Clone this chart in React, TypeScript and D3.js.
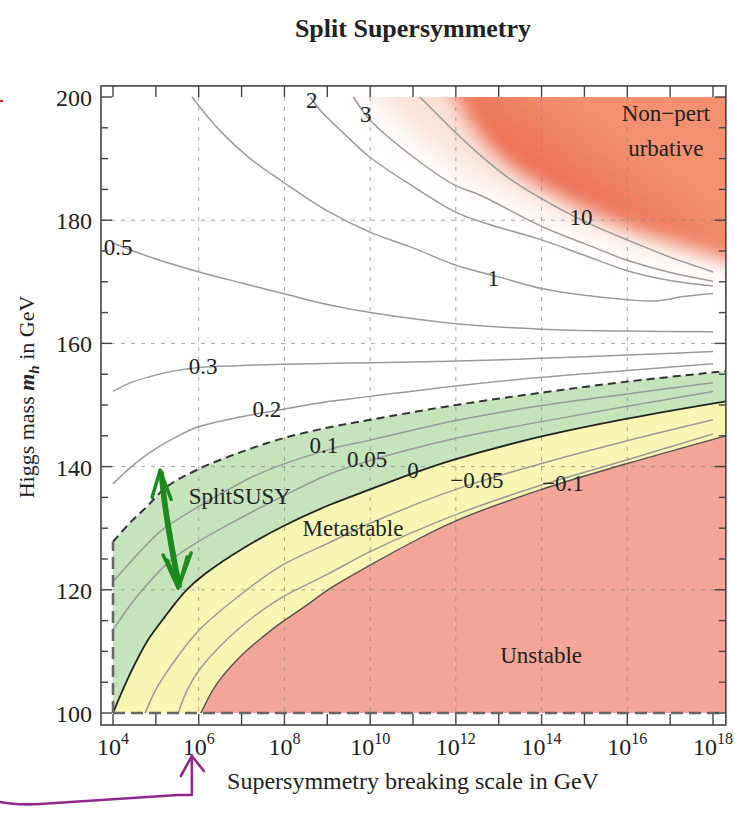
import React from "react";
import * as d3 from "d3";

const W = 735;
const H = 815;

// x values: log10 of the SUSY breaking scale in GeV, y values: Higgs mass in GeV
const xTickExps = [4, 6, 8, 10, 12, 14, 16, 18];
const yTicks = [100, 120, 140, 160, 180, 200];
const frameX = [3.72, 18.3];
const frameY = [98.05, 201.8];

// region boundaries
const splitSusyEdge: [number, number][] = [
  [4, 127.8], [4.4, 130.9], [4.79, 133.5], [5.25, 136.7], [6.0, 139.6], [7.0, 142.4],
  [7.97, 144.6], [9.06, 146.4], [10, 147.6], [12, 150.0], [14, 152.0], [16, 153.8], [18.3, 155.5],
];
const zeroLine: [number, number][] = [
  [4, 100], [4.4, 106.4], [4.82, 111.9], [5.21, 115.6], [5.45, 117.8], [5.72, 120], [6.15, 122.6],
  [7.05, 126.8], [8.05, 130.6], [9.06, 133.8], [10, 136.3], [11, 138.9], [12, 141.2], [14, 144.9],
  [16, 147.8], [18.3, 150.6],
];
const unstableEdge: [number, number][] = [
  [6.05, 100], [6.4, 104.5], [6.92, 108.8], [7.7, 113.5], [8.48, 117.3], [9.06, 120.2], [10, 124.0],
  [11, 127.8], [12, 131.2], [14, 136.3], [16, 140.5], [18.3, 145.0],
];
const nonPertEdge: [number, number][] = [
  [11.7, 204], [12.0, 200], [12.6, 193.5], [13.3, 188.8], [14.3, 184.5], [15.3, 181], [16.3, 178.2],
  [17.3, 176], [18.3, 173.8], [19.5, 172.5],
];
const nonPertHalo: [number, number][] = [
  [9.9, 204], [10.2, 200], [11, 194.5], [12, 189], [13, 185.5], [14, 182], [15, 179], [16, 176.5],
  [17, 174.5], [18.3, 173], [19.5, 172],
];

// gray contour lines (coupling at the high scale)
const c005: [number, number][] = [
  [4, 113.5], [4.4, 117.5], [4.75, 120.5], [5.3, 124.5], [5.76, 126.8], [6.54, 130], [8.05, 135.5],
  [9.06, 138.8], [10, 141], [12, 144.6], [14, 147.3], [16, 149.8], [18, 152.2],
];
const c01: [number, number][] = [
  [4, 121.3], [4.59, 125.9], [5.14, 129.7], [6, 133.5], [7.43, 138.9], [9.06, 142.8], [10, 144.3],
  [12, 147.5], [14, 149.9], [16, 151.8], [18, 153.6],
];
const cm005: [number, number][] = [
  [4.75, 100], [5.0, 103.8], [5.29, 107], [5.99, 113.3], [6.92, 118.9], [7.9, 123.8], [9, 127.5],
  [10, 130.8], [12, 136.3], [14, 140.5], [16, 144.2], [18, 147.6],
];
const cm01: [number, number][] = [
  [5.52, 100], [5.75, 104], [6.07, 107.5], [6.92, 113.6], [7.9, 118.6], [9, 122.5], [10, 126.2],
  [12, 132.2], [14, 137.0], [16, 141.1], [18, 145.3],
];
const c02: [number, number][] = [
  [4, 137.2], [4.5, 140.4], [5, 142.9], [5.5, 144.9], [6.01, 146.5], [7, 148.1], [7.97, 149.3],
  [9.06, 150.6], [10, 151.4], [12, 153.1], [14, 154.5], [16, 155.6], [18, 156.7],
];
const c03: [number, number][] = [
  [4, 152.2], [4.4, 153.6], [4.86, 154.6], [5.4, 155.5], [6.01, 156.1], [7, 156.4], [7.97, 156.6],
  [9.5, 156.8], [11, 157.0], [12.9, 157.3], [14, 157.6], [16, 158.1], [18, 158.7],
];
const c05: [number, number][] = [
  [4, 176.3], [4.4, 175.2], [5, 173.7], [6.01, 171.6], [7, 169.8], [7.97, 168.1], [9, 166.3],
  [10, 165.0], [12, 163.2], [14, 162.3], [16, 162.0], [18, 161.9],
];
const c1: [number, number][] = [
  [5.84, 200], [6.5, 194.5], [7.2, 190], [7.97, 186.2], [9, 181.5], [9.98, 178.1], [11, 175.5],
  [12, 172.7], [13, 170.8], [14, 168.9], [15, 167.8], [16, 167.1], [16.7, 166.9], [17.3, 167.6], [18, 168.1],
];
const c2: [number, number][] = [
  [8.6, 200], [8.83, 197.9], [9.4, 194], [9.98, 190.3], [11, 185.5], [11.97, 181.4], [12.56, 179.8],
  [14, 176.8], [15, 174.3], [16, 171.8], [17, 170.2], [18, 169.3],
];
const c3: [number, number][] = [
  [9.61, 200], [9.98, 196.4], [11, 190.3], [11.97, 185.7], [12.56, 184.1], [14, 179], [15, 176.2],
  [16, 173.5], [17, 171.5], [18, 170.1],
];
const c10: [number, number][] = [
  [11.16, 200], [11.97, 194.4], [12.56, 190.6], [13.2, 187], [14, 183.5], [15, 179.8], [16, 176.8],
  [17, 174], [18, 171.6],
];
const grayContours = [c005, c01, cm005, cm01, c02, c03, c05, c1, c2, c3, c10];

const contourLabels: { text: string; at: [number, number] }[] = [
  { text: "0.5", at: [4.12, 175.5] },
  { text: "0.3", at: [6.1, 156.3] },
  { text: "0.2", at: [7.59, 149.2] },
  { text: "0.1", at: [8.92, 143.5] },
  { text: "0.05", at: [9.93, 141.2] },
  { text: "0", at: [11.0, 139.3] },
  { text: "\u22120.05", at: [12.49, 137.8] },
  { text: "\u22120.1", at: [14.5, 137.3] },
  { text: "1", at: [12.87, 170.6] },
  { text: "2", at: [8.64, 199.4] },
  { text: "3", at: [9.9, 197.1] },
  { text: "10", at: [14.92, 180.5] },
];
const regionLabels: { text: string; at: [number, number] }[] = [
  { text: "SplitSUSY", at: [6.96, 135.1] },
  { text: "Metastable", at: [9.6, 130.0] },
  { text: "Unstable", at: [13.99, 109.4] },
  { text: "Non\u2212pert", at: [16.9, 197.4] },
  { text: "urbative", at: [16.9, 191.7] },
];

// hand drawn green arrow, in data units
const arrowTop: [number, number] = [5.1, 139.4];
const arrowBottom: [number, number] = [5.52, 120.3];

const FONT = "'Liberation Serif', 'DejaVu Serif', serif";

export default function App() {
  const x = d3.scaleLog().domain([1e4, 1e18]).range([113, 713]);
  const y = d3.scaleLinear().domain([100, 200]).range([713, 97]);
  const px = (e: number) => x(Math.pow(10, e));

  const line = d3
    .line<[number, number]>()
    .x((d) => px(d[0]))
    .y((d) => y(d[1]))
    .curve(d3.curveCatmullRom.alpha(0.5));

  const join = (a: [number, number][], b: [number, number][]) =>
    `${line(a)}L${(line(b.slice().reverse()) as string).slice(1)}Z`;

  const fx0 = px(frameX[0]);
  const fx1 = px(frameX[1]);
  const fy0 = y(frameY[1]);
  const fy1 = y(frameY[0]);

  const greenPath = join(splitSusyEdge, zeroLine);
  const yellowPath = join(zeroLine, unstableEdge);
  const redPath = `${line(unstableEdge)}L${px(18.3)},${y(100)}Z`;
  const orangePath = `${line(nonPertEdge)}L${px(19.5)},${y(215)}L${px(11)},${y(215)}Z`;
  const haloPath = `${line(nonPertHalo)}L${px(19.5)},${y(215)}L${px(9)},${y(215)}Z`;

  const xDecades = d3.range(4, 19);
  const yMinor = d3.range(100, 201, 5);

  const [ax, ay] = [px(arrowTop[0]), y(arrowTop[1])];
  const [bx, by] = [px(arrowBottom[0]), y(arrowBottom[1])];
  const tipX = px(5.84);

  return (
    <svg width={W} height={H} style={{ position: "absolute", left: 0, top: 0, background: "#fff" }} fontFamily={FONT}>
      <defs>
        <clipPath id="plotClip">
          <rect x={fx0} y={y(200)} width={fx1 - fx0} height={y(100) - y(200)} />
        </clipPath>
        <filter id="soft" x="-30%" y="-30%" width="160%" height="160%">
          <feGaussianBlur stdDeviation="9" />
        </filter>
        <filter id="softer" x="-30%" y="-30%" width="160%" height="160%">
          <feGaussianBlur stdDeviation="16" />
        </filter>
        <linearGradient id="npGrad" gradientUnits="userSpaceOnUse" x1={px(14.3)} y1={y(184.5)} x2={px(15.4)} y2={y(195)}>
          <stop offset="0" stopColor="#ec6c52" />
          <stop offset="1" stopColor="#f2906f" />
        </linearGradient>
      </defs>

      {/* regions */}
      <path d={greenPath} fill="#c6e4bc" />
      <path d={yellowPath} fill="#f8f6b2" />
      <path d={redPath} fill="#f4a597" />
      <g clipPath="url(#plotClip)">
        <path d={haloPath} fill="#f7c6b6" opacity={0.55} filter="url(#softer)" />
        <path d={orangePath} fill="url(#npGrad)" filter="url(#soft)" />
      </g>

      {/* grid */}
      <g stroke="#8a8a8a" strokeOpacity={0.75} strokeWidth={1} strokeDasharray="4 6" fill="none">
        {xTickExps.slice(1, -1).map((e) => (
          <line key={`gx${e}`} x1={px(e)} x2={px(e)} y1={y(200)} y2={y(100)} />
        ))}
        {yTicks.slice(1, -1).map((v) => (
          <line key={`gy${v}`} x1={fx0} x2={fx1} y1={y(v)} y2={y(v)} />
        ))}
      </g>

      {/* contours */}
      <g fill="none" stroke="#9a9a9a" strokeWidth={1.5}>
        {grayContours.map((c, i) => (
          <path key={i} d={line(c) as string} />
        ))}
      </g>
      <path d={line(unstableEdge) as string} fill="none" stroke="#555" strokeWidth={1.4} />
      <path d={line(zeroLine) as string} fill="none" stroke="#222" strokeWidth={1.8} />
      <path d={line(splitSusyEdge) as string} fill="none" stroke="#333" strokeWidth={2} strokeDasharray="8 5" />
      <line x1={px(4)} x2={fx1} y1={y(100)} y2={y(100)} stroke="#666" strokeWidth={2.6} strokeDasharray="12 6" />
      <line x1={px(4)} x2={px(4)} y1={y(100)} y2={y(splitSusyEdge[0][1])} stroke="#666" strokeWidth={2.6} strokeDasharray="12 6" />

      {/* labels */}
      <g fill="#222" fontSize={23} textAnchor="middle" dominantBaseline="central">
        {contourLabels.map((l) => (
          <text key={l.text} x={px(l.at[0])} y={y(l.at[1])}>
            {l.text}
          </text>
        ))}
      </g>
      <g fill="#222" fontSize={23} textAnchor="middle" dominantBaseline="central">
        {regionLabels.map((l) => (
          <text key={l.text} x={px(l.at[0])} y={y(l.at[1])}>
            {l.text}
          </text>
        ))}
      </g>

      {/* frame and ticks */}
      <rect x={fx0} y={fy0} width={fx1 - fx0} height={fy1 - fy0} fill="none" stroke="#444" strokeWidth={1.6} />
      <g stroke="#444" strokeWidth={1.4}>
        {xDecades.map((e) => (
          <g key={`tx${e}`}>
            <line x1={px(e)} x2={px(e)} y1={fy1} y2={fy1 - 11} />
            <line x1={px(e)} x2={px(e)} y1={fy0} y2={fy0 + 11} />
          </g>
        ))}
        {yMinor.map((v) => {
          const len = v % 20 === 0 ? 11 : 7;
          return (
            <g key={`ty${v}`}>
              <line x1={fx0} x2={fx0 + len} y1={y(v)} y2={y(v)} />
              <line x1={fx1} x2={fx1 - len} y1={y(v)} y2={y(v)} />
            </g>
          );
        })}
      </g>
      <g fill="#222" fontSize={24}>
        {yTicks.map((v) => (
          <text key={`ly${v}`} x={fx0 - 9} y={y(v) + 1} textAnchor="end" dominantBaseline="central">
            {v}
          </text>
        ))}
        {xTickExps.map((e) => (
          <text key={`lx${e}`} x={px(e)} y={755} textAnchor="middle">
            10
            <tspan dy={-11} fontSize={16}>
              {e}
            </tspan>
          </text>
        ))}
      </g>

      {/* titles */}
      <text x={413} y={37} textAnchor="middle" fontSize={26} fontWeight="bold" fill="#222">
        Split Supersymmetry
      </text>
      <text x={413} y={789} textAnchor="middle" fontSize={24} fill="#222">
        Supersymmetry breaking scale in GeV
      </text>
      <text transform="translate(34,397) rotate(-90)" textAnchor="middle" fontSize={22} fill="#222">
        Higgs mass{" "}
        <tspan fontStyle="italic" fontWeight="bold">m</tspan>
        <tspan fontStyle="italic" fontWeight="bold" fontSize={15} dy={5}>h</tspan>
        <tspan dy={-5}> in GeV</tspan>
      </text>

      {/* hand drawn annotations */}
      <g fill="none" stroke="#1c8a1c" strokeWidth={3.5} strokeLinecap="round" strokeLinejoin="round">
        <path d={`M${ax},${ay} C${ax + 3},${ay + 40} ${bx - 8},${by - 40} ${bx},${by}`} />
        <path d={`M${ax + 2},${ay + 2} C${ax + 6},${ay + 44} ${bx - 5},${by - 38} ${bx + 2},${by - 2}`} />
        <path d={`M${ax - 8},${ay + 27} L${ax},${ay} L${ax + 11},${ay + 29}`} />
        <path d={`M${bx - 15},${by - 33} L${bx},${by} L${bx + 13},${by - 35}`} />
        <path d={`M${bx - 11},${by - 28} L${bx + 1},${by - 2} L${bx + 9},${by - 31}`} />
      </g>
      <g fill="none" stroke="#8e2a8e" strokeWidth={2.6} strokeLinecap="round" strokeLinejoin="round">
        <path d={`M0,802 C10,804 22,805 40,804 L${tipX - 14},795 L${tipX},795 L${tipX},757`} />
        <path d={`M${tipX - 11},776 L${tipX},756 L${tipX + 12},771`} />
      </g>
      <line x1={0} x2={3} y1={101} y2={101} stroke="#e02020" strokeWidth={2} />
    </svg>
  );
}
